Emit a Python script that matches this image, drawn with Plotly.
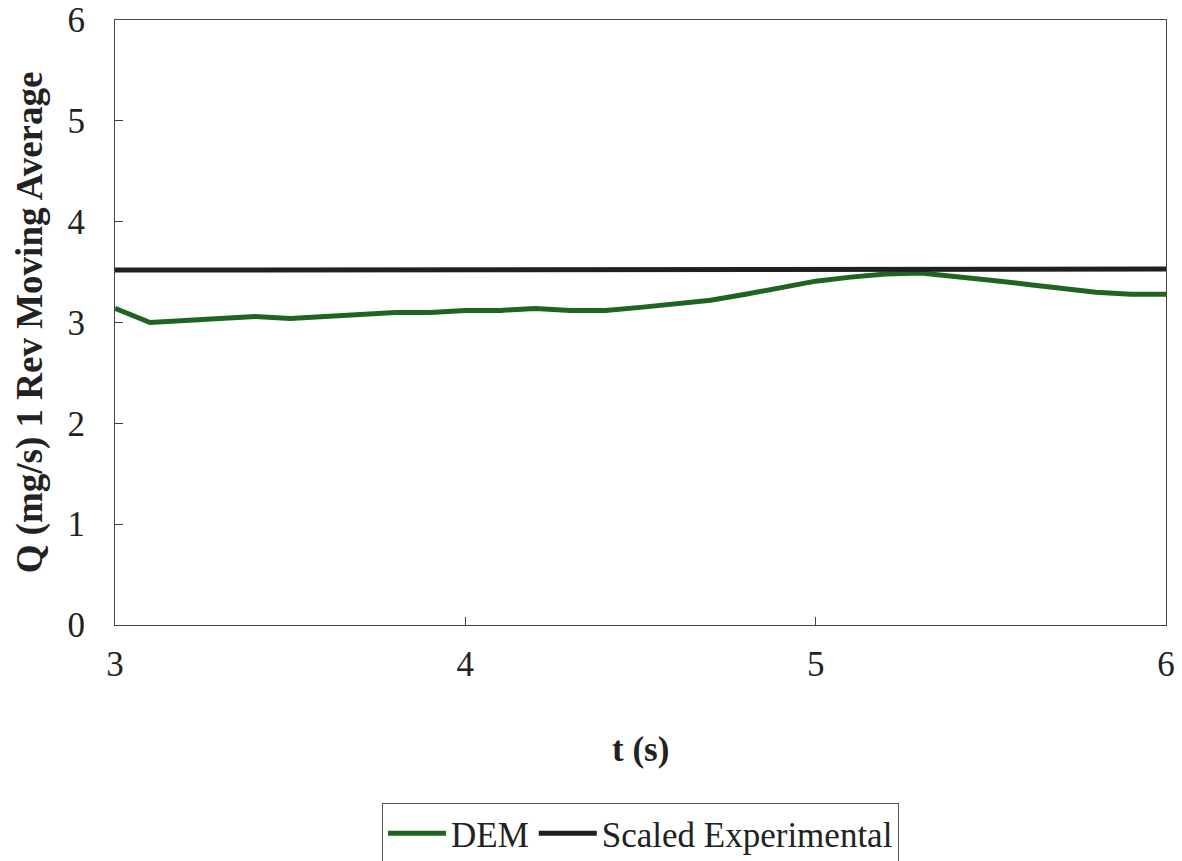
import plotly.graph_objects as go

t = [3.0, 3.1, 3.2, 3.3, 3.4, 3.5, 3.6, 3.7, 3.8, 3.9, 4.0,
     4.1, 4.2, 4.3, 4.4, 4.5, 4.6, 4.7, 4.8, 4.9, 5.0,
     5.1, 5.2, 5.3, 5.4, 5.5, 5.6, 5.7, 5.8, 5.9, 6.0]
dem = [3.14, 3.00, 3.02, 3.04, 3.06, 3.04, 3.06, 3.08, 3.10, 3.10, 3.12,
       3.12, 3.14, 3.12, 3.12, 3.15, 3.18, 3.22, 3.28, 3.35, 3.41,
       3.45, 3.48, 3.49, 3.46, 3.42, 3.38, 3.34, 3.30, 3.28, 3.28]
exp_t = [3.0, 6.0]
exp_q = [3.52, 3.53]

FONT = "Liberation Serif"

fig = go.Figure()
fig.add_trace(go.Scatter(x=t, y=dem, mode="lines", name="DEM",
                         line=dict(color="#1f6420", width=5)))
fig.add_trace(go.Scatter(x=exp_t, y=exp_q, mode="lines", name="Scaled Experimental",
                         line=dict(color="#231f20", width=5)))

fig.update_layout(
    width=1182, height=861,
    margin=dict(l=115, r=16, t=20, b=236),
    paper_bgcolor="white", plot_bgcolor="white",
    font=dict(family=FONT, size=35, color="#222"),
    showlegend=True,
    legend=dict(orientation="h", x=0.5, xanchor="center",
                yref="container", y=(861 - 803) / 861, yanchor="top",
                bordercolor="#555", borderwidth=1, font=dict(family=FONT, size=35),
                itemwidth=58, tracegroupgap=0),
    xaxis=dict(range=[3, 6], tickvals=[3, 4, 5, 6], ticks="inside", ticklen=8,
               tickcolor="#444", showline=True, linecolor="#444", linewidth=1,
               mirror=True, showgrid=False, zeroline=False, automargin=False,
               ticklabelstandoff=8, tickfont=dict(family=FONT, size=35)),
    yaxis=dict(range=[0, 6], tickvals=[0, 1, 2, 3, 4, 5, 6], ticks="inside", ticklen=8,
               tickcolor="#444", showline=True, linecolor="#444", linewidth=1,
               mirror=True, showgrid=False, zeroline=False, automargin=False,
               ticklabelstandoff=22,
               tickfont=dict(family=FONT, size=35)),
    annotations=[
        dict(text="<b>t (s)</b>", xref="paper", yref="paper", x=0.5, y=-0.206,
             xanchor="center", yanchor="middle", showarrow=False,
             font=dict(family=FONT, size=35)),
        dict(text="<b>Q (mg/s) 1 Rev Moving Average</b>", xref="paper", yref="paper",
             x=-0.081, y=0.5, xanchor="center", yanchor="middle", textangle=-90,
             showarrow=False, font=dict(family=FONT, size=37)),
    ],
)

fig.write_html("out.html")
